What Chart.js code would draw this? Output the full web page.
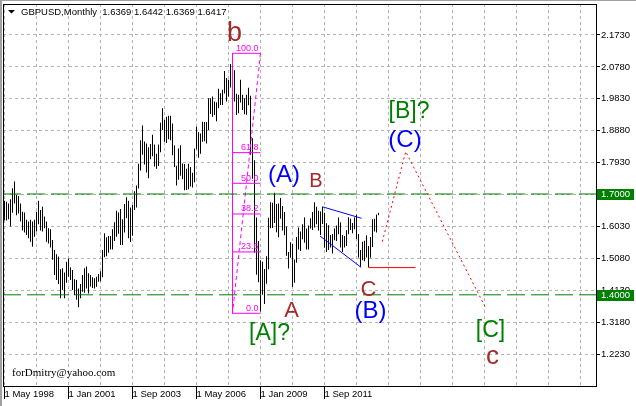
<!DOCTYPE html>
<html>
<head>
<meta charset="utf-8">
<script src="https://cdn.jsdelivr.net/npm/chart.js@4/dist/chart.umd.min.js"></script>
<style>
  html, body { margin: 0; padding: 0; background: #fff; }
  #wrap { width: 636px; height: 406px; }
</style>
</head>
<body>
<div id="wrap"><canvas id="gbpChart" width="636" height="406"></canvas></div>
<script>
// GBPUSD monthly bars, one entry per month from May 1998 to Dec 2013
const barHigh = [
  1.680, 1.677, 1.672, 1.684, 1.717, 1.737, 1.697, 1.694,                         // 1998
  1.672, 1.647, 1.645, 1.623, 1.618, 1.623, 1.618, 1.623, 1.647, 1.680, 1.652, 1.662, // 1999
  1.633, 1.618, 1.598, 1.595, 1.563, 1.533, 1.521, 1.514, 1.476, 1.479, 1.466, 1.498, // 2000
  1.508, 1.482, 1.474, 1.446, 1.444, 1.419, 1.432, 1.459, 1.479, 1.484, 1.464, 1.459, // 2001
  1.452, 1.449, 1.454, 1.462, 1.470, 1.533, 1.583, 1.571, 1.575, 1.575, 1.595, 1.616, // 2002
  1.650, 1.645, 1.655, 1.625, 1.670, 1.690, 1.680, 1.660, 1.667, 1.708, 1.725, 1.790, // 2003
  1.860, 1.904, 1.856, 1.850, 1.839, 1.849, 1.876, 1.847, 1.820, 1.847, 1.912, 1.955, // 2004
  1.920, 1.930, 1.933, 1.933, 1.910, 1.845, 1.784, 1.835, 1.845, 1.791, 1.789, 1.775, // 2005
  1.790, 1.780, 1.763, 1.835, 1.900, 1.884, 1.880, 1.915, 1.914, 1.914, 1.985, 1.985, // 2006
  1.990, 1.975, 1.973, 2.013, 2.000, 2.010, 2.066, 2.045, 2.040, 2.087, 2.116, 2.068, // 2007
  1.998, 1.995, 2.040, 1.995, 1.985, 1.995, 2.016, 1.992, 1.866, 1.800, 1.630, 1.560, // 2008
  1.503, 1.498, 1.477, 1.515, 1.629, 1.675, 1.674, 1.704, 1.670, 1.672, 1.688, 1.664, // 2009
  1.646, 1.603, 1.527, 1.556, 1.552, 1.505, 1.572, 1.600, 1.588, 1.610, 1.630, 1.597, // 2010
  1.606, 1.628, 1.646, 1.675, 1.662, 1.650, 1.648, 1.662, 1.644, 1.613, 1.607, 1.578, // 2011
  1.581, 1.597, 1.606, 1.630, 1.616, 1.578, 1.575, 1.592, 1.631, 1.626, 1.614, 1.630, // 2012
  1.638, 1.581, 1.533, 1.558, 1.561, 1.577, 1.545, 1.572, 1.625, 1.626, 1.639, 1.6442 // 2013
];
const barLow = [
  1.622, 1.621, 1.625, 1.603, 1.644, 1.672, 1.637, 1.642,
  1.618, 1.591, 1.585, 1.578, 1.568, 1.558, 1.543, 1.573, 1.588, 1.610, 1.591, 1.588,
  1.598, 1.558, 1.553, 1.541, 1.504, 1.459, 1.444, 1.432, 1.390, 1.414, 1.390, 1.436,
  1.454, 1.444, 1.414, 1.399, 1.385, 1.363, 1.390, 1.409, 1.406, 1.419, 1.404, 1.425,
  1.420, 1.419, 1.424, 1.439, 1.440, 1.452, 1.512, 1.515, 1.525, 1.535, 1.535, 1.560,
  1.573, 1.582, 1.548, 1.548, 1.585, 1.628, 1.568, 1.557, 1.576, 1.652, 1.660, 1.716,
  1.770, 1.817, 1.788, 1.764, 1.747, 1.803, 1.812, 1.782, 1.775, 1.783, 1.824, 1.890,
  1.855, 1.852, 1.863, 1.860, 1.815, 1.780, 1.725, 1.742, 1.754, 1.744, 1.711, 1.712,
  1.714, 1.722, 1.719, 1.735, 1.833, 1.808, 1.820, 1.855, 1.857, 1.850, 1.890, 1.938,
  1.930, 1.935, 1.916, 1.955, 1.965, 1.965, 1.999, 1.975, 1.990, 2.017, 2.025, 1.975,
  1.935, 1.940, 1.972, 1.950, 1.937, 1.936, 1.964, 1.817, 1.745, 1.525, 1.460, 1.437,
  1.350, 1.400, 1.373, 1.433, 1.476, 1.598, 1.599, 1.614, 1.586, 1.571, 1.626, 1.591,
  1.577, 1.516, 1.478, 1.510, 1.423, 1.436, 1.495, 1.535, 1.530, 1.565, 1.555, 1.535,
  1.535, 1.597, 1.593, 1.600, 1.610, 1.591, 1.578, 1.611, 1.540, 1.527, 1.533, 1.541,
  1.523, 1.562, 1.560, 1.580, 1.541, 1.527, 1.541, 1.545, 1.580, 1.593, 1.583, 1.595,
  1.565, 1.511, 1.483, 1.503, 1.500, 1.511, 1.481, 1.510, 1.542, 1.588, 1.585, 1.6369
];
const lastBar = [1.6369, 1.6442, 1.6369, 1.6417]; // open high low close

// axes (x is a month index, 0 = May 1998)
const dateTickMonths = [0, 32, 64, 96, 128, 160];
const dateTickLabels = ['1 May 1998', '1 Jan 2001', '1 Sep 2003', '1 May 2006', '1 Jan 2009', '1 Sep 2011'];
const priceTicks = [1.2230, 1.3180, 1.4130, 1.5080, 1.6030, 1.6980, 1.7930, 1.8880, 1.9830, 2.0780, 2.1730];
const xMin = -0.75, xMax = 295.75;
const yMin = 1.1257, yMax = 2.2652;

// drawn objects
const hLevels = [1.7000, 1.4000];
const fibLevels = [0, 23.6, 38.2, 50, 61.8, 100];
const fibMonths = [114, 128];
const fibPrices = [1.345, 2.1185];
const projMonths = [188.9, 200.6, 240.25];
const projPrices = [1.558, 1.826, 1.365];
const supportMonths = [182, 205.5];
const supportPrices = [1.481, 1.481];
const wedgeUpMonths = [159, 178.5];
const wedgeUpPrices = [1.6618, 1.6276];
const wedgeLowMonths = [157.75, 178.25];
const wedgeLowPrices = [1.575, 1.4818];

const brown = '#a52a2a', blue = '#0000ff', green = '#008000', magenta = '#ff00ff';
const uiFont = '"Liberation Sans", Arial, sans-serif';

// wave labels, anchored in month / price
const waveNotes = [
  { text: 'b', m: 115, p: 2.156, color: brown, size: 27 },
  { text: '(A)', m: 139.75, p: 1.735, color: blue, size: 24 },
  { text: 'B', m: 155.75, p: 1.7198, color: brown, size: 20 },
  { text: 'A', m: 143.5, p: 1.335, color: brown, size: 22 },
  { text: 'C', m: 182, p: 1.3964, color: brown, size: 22 },
  { text: '(B)', m: 183, p: 1.330, color: blue, size: 24 },
  { text: '[A]?', m: 132.5, p: 1.265, color: green, size: 23 },
  { text: '[B]?', m: 202.25, p: 1.926, color: green, size: 23 },
  { text: '(C)', m: 200.25, p: 1.840, color: blue, size: 24 },
  { text: '[C]', m: 243, p: 1.2744, color: green, size: 23 },
  { text: 'c', m: 244, p: 1.194, color: brown, size: 26 }
];

function lineSet(xs, ys, color, dash, width) {
  return {
    type: 'line',
    data: xs.map((x, i) => ({ x: x, y: ys[i] })),
    borderColor: color,
    borderDash: dash,
    borderWidth: width,
    pointRadius: 0,
    fill: false,
    tension: 0,
    order: 0
  };
}

const fibPrice = lvl => fibPrices[0] + (fibPrices[1] - fibPrices[0]) * lvl / 100;

const datasets = [
  {
    type: 'bar',
    data: barHigh.map((h, i) => ({ x: i, y: [barLow[i], h] })),
    backgroundColor: '#000',
    borderWidth: 0,
    barThickness: 1,
    inflateAmount: 0,
    order: 10
  },
  ...hLevels.map(p => lineSet([xMin, xMax], [p, p], green, [18, 6], 1)),
  ...fibLevels.map(l => lineSet(fibMonths, [fibPrice(l), fibPrice(l)], magenta, [], 1)),
  lineSet([fibMonths[0], fibMonths[0]], [fibPrices[1], fibPrices[0]], magenta, [], 1),
  lineSet([fibMonths[1], fibMonths[0]], [fibPrices[1], fibPrices[0]], magenta, [4, 3], 1),
  lineSet(wedgeUpMonths, wedgeUpPrices, blue, [], 1),
  lineSet(wedgeLowMonths, wedgeLowPrices, blue, [], 1),
  lineSet(supportMonths, supportPrices, '#ff0000', [], 1),
  lineSet(projMonths, projPrices, '#ff0000', [2, 3], 1)
];

const mtOverlay = {
  id: 'mtOverlay',
  afterDatasetsDraw(chart) {
    const ctx = chart.ctx;
    const xs = chart.scales.x, ys = chart.scales.y;
    ctx.save();
    // fibo level captions
    ctx.font = '9px ' + uiFont;
    ctx.fillStyle = magenta;
    ctx.textAlign = 'right';
    ctx.textBaseline = 'alphabetic';
    fibLevels.forEach(l => {
      ctx.fillText(l.toFixed(1), xs.getPixelForValue(fibMonths[1]) - 2, ys.getPixelForValue(fibPrice(l)) - 2.5);
    });
    // wave labels
    ctx.textAlign = 'center';
    waveNotes.forEach(n => {
      ctx.font = n.size + 'px ' + uiFont;
      ctx.fillStyle = n.color;
      ctx.fillText(n.text, xs.getPixelForValue(n.m), ys.getPixelForValue(n.p));
    });
    ctx.restore();
  },
  afterDraw(chart) {
    const ctx = chart.ctx;
    const a = chart.chartArea;
    const ys = chart.scales.y;
    ctx.save();
    // window edge
    ctx.fillStyle = '#a0a0a0';
    ctx.fillRect(0, 0, 2, 406);
    ctx.fillRect(0, 0, 636, 1);
    // frame
    ctx.strokeStyle = '#000';
    ctx.lineWidth = 1;
    ctx.strokeRect(a.left + 0.5, a.top + 0.5, a.right - a.left, a.bottom - a.top - 1);
    // price tags of the horizontal lines
    ctx.font = '9.5px ' + uiFont;
    ctx.textAlign = 'left';
    ctx.textBaseline = 'middle';
    hLevels.forEach(p => {
      const y = Math.round(ys.getPixelForValue(p));
      ctx.fillStyle = green;
      ctx.fillRect(a.right + 1, y - 5, 37, 11);
      ctx.fillStyle = '#fff';
      ctx.fillText(p.toFixed(4), a.right + 5, y + 0.5);
    });
    // header
    ctx.fillStyle = '#000';
    ctx.beginPath();
    ctx.moveTo(8, 10); ctx.lineTo(15, 10); ctx.lineTo(11.5, 13.5);
    ctx.closePath();
    ctx.fill();
    ctx.textBaseline = 'alphabetic';
    ctx.fillText('GBPUSD,Monthly  ' + lastBar.map(v => v.toFixed(4)).join(' '), 21, 15);
    // signature
    ctx.font = '11px "Liberation Serif", serif';
    ctx.fillStyle = '#000';
    ctx.fillText('forDmitry@yahoo.com', 12, 376);
    ctx.restore();
  }
};

Chart.defaults.font.family = uiFont;
Chart.defaults.font.size = 9.5;
Chart.defaults.color = '#000';

new Chart(document.getElementById('gbpChart'), {
  type: 'bar',
  data: { datasets: datasets },
  options: {
    responsive: false,
    animation: false,
    events: [],
    layout: { padding: { left: 3, top: 4, right: 0, bottom: 0 } },
    plugins: { legend: { display: false }, tooltip: { enabled: false }, title: { display: false } },
    scales: {
      x: {
        type: 'linear',
        min: xMin,
        max: xMax,
        offset: false,
        afterBuildTicks: s => {
          const t = [];
          for (let m = 0; m <= 288; m += 16) t.push({ value: m });
          s.ticks = t;
        },
        afterFit: s => {
          s.height = 19;
          s.paddingLeft = 0; s.paddingRight = 0; s.paddingTop = 0; s.paddingBottom = 0;
        },
        grid: {
          color: '#b4b4b4',
          offset: false,
          drawTicks: true,
          tickLength: 12,
          tickWidth: 1,
          tickColor: c => (c.tick && dateTickMonths.includes(c.tick.value)) ? '#000' : 'rgba(0,0,0,0)'
        },
        border: { display: false, dash: [3, 3] },
        ticks: {
          autoSkip: false,
          maxRotation: 0,
          minRotation: 0,
          align: 'start',
          padding: -10,
          color: '#000',
          callback: v => {
            const k = dateTickMonths.indexOf(v);
            return k >= 0 ? dateTickLabels[k] : '';
          }
        }
      },
      y: {
        type: 'linear',
        position: 'right',
        min: yMin,
        max: yMax,
        beginAtZero: false,
        afterBuildTicks: s => { s.ticks = priceTicks.map(v => ({ value: v })); },
        afterFit: s => {
          s.width = 40;
          s.paddingLeft = 0; s.paddingRight = 0; s.paddingTop = 0; s.paddingBottom = 0;
        },
        grid: { color: '#b4b4b4', drawTicks: true, tickLength: 4, tickWidth: 1, tickColor: '#000' },
        border: { display: false, dash: [3, 3] },
        ticks: { padding: 1, color: '#000', callback: v => v.toFixed(4) }
      }
    }
  },
  plugins: [mtOverlay]
});
</script>
</body>
</html>
